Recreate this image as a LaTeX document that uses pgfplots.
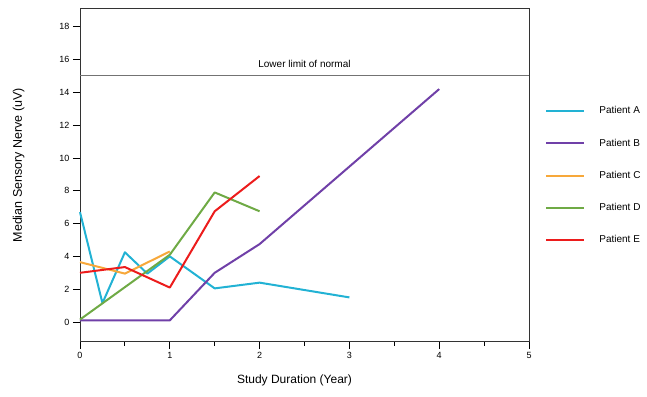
\documentclass[border=0pt]{standalone}
\usepackage{pgfplots}
\pgfplotsset{compat=1.18}
\usepackage{fontspec}
\setmainfont{Liberation Sans}
\definecolor{cA}{HTML}{22B2D4}
\definecolor{cB}{HTML}{7040A8}
\definecolor{cC}{HTML}{F7A83A}
\definecolor{cD}{HTML}{6FAA45}
\definecolor{cE}{HTML}{EC1C1C}
\begin{document}
\begin{tikzpicture}
\begin{axis}[
  scale only axis, width=449pt, height=333pt,
  xmin=0, xmax=5, ymin=-1.2, ymax=19.1,
  xtick={0,1,2,3,4,5}, minor xtick={0.5,1.5,2.5,3.5,4.5},
  ytick={0,2,...,18},
  tick align=outside, xtick pos=bottom, ytick pos=left,
  major tick length=7pt, minor tick length=4pt,
  every tick/.style={black, line width=0.8pt},
  axis line style={line width=0.9pt, black!80},
  tick label style={font=\fontsize{9}{10}\selectfont},
  /pgf/number format/assume math mode=true,
  xlabel={Study Duration (Year)}, ylabel={Median Sensory Nerve (uV)},
  xlabel style={font=\fontsize{12}{14}\selectfont, yshift=-9pt, xshift=-10pt},
  ylabel style={font=\fontsize{12.5}{14}\selectfont, yshift=28pt, xshift=10pt},
  legend style={draw=none, fill=none, at={(1.036,0.7125)}, anchor=north west,
    font=\fontsize{10}{12}\selectfont, row sep=19.5pt, inner sep=0pt,
    /tikz/every odd column/.append style={column sep=12pt}},
  legend cell align=left,
  legend image code/.code={\draw[#1, line width=2pt] (0pt,0pt) -- (38pt,0pt);},
  every axis plot/.append style={line width=2pt, line join=round},
  clip=false,
]
\addplot[cA] coordinates {(0,6.7) (0.25,1.15) (0.5,4.25) (0.75,2.95) (1,4.0) (1.5,2.05) (2,2.4) (3,1.5)};
\addlegendentry{Patient A}
\addplot[cB] coordinates {(0,0.1) (0.25,0.1) (0.5,0.1) (0.75,0.1) (1,0.1) (1.5,3.0) (2,4.75) (4,14.2)};
\addlegendentry{Patient B}
\addplot[cC] coordinates {(0,3.65) (0.5,2.95) (1,4.3)};
\addlegendentry{Patient C}
\addplot[cD] coordinates {(0,0.15) (1,4.1) (1.5,7.9) (2,6.75)};
\addlegendentry{Patient D}
\addplot[cE] coordinates {(0,3.0) (0.5,3.35) (1,2.1) (1.5,6.75) (2,8.9)};
\addlegendentry{Patient E}
\addplot[black!55, line width=0.8pt, forget plot] coordinates {(0,15.05) (5,15.05)};
\node[font=\fontsize{10}{12}\selectfont, anchor=south] at (axis cs:2.5,15.3) {Lower limit of normal};
\end{axis}
\path (current axis.south west) ++(-80pt,-54.3pt) rectangle ++(647pt,396pt);
\end{tikzpicture}
\end{document}
